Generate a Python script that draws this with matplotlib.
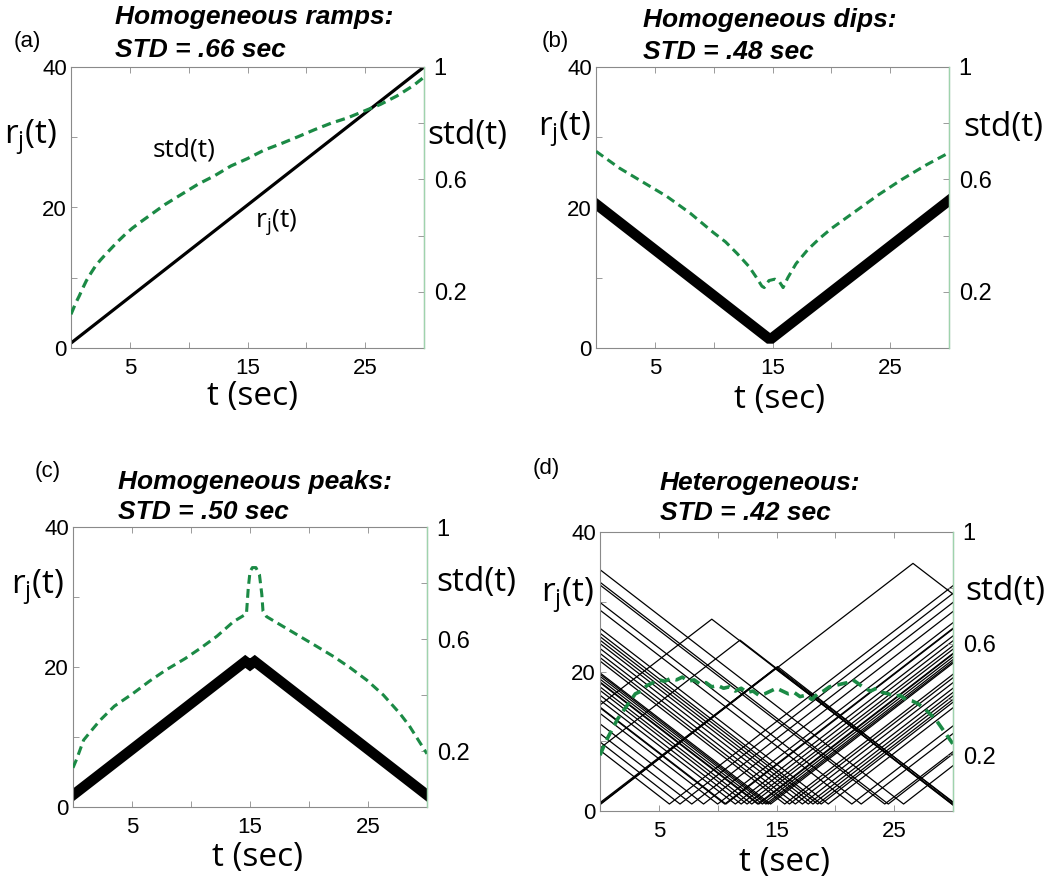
import matplotlib
matplotlib.use('Agg')
import matplotlib.pyplot as plt

plt.rcParams['font.family'] = ['Liberation Sans', 'DejaVu Sans']
plt.rcParams['mathtext.fontset'] = 'custom'
plt.rcParams['mathtext.rm'] = 'Open Sans'
plt.rcParams['mathtext.it'] = 'Open Sans:italic'

# ---------------- data ----------------
x_ticks = [0, 5, 10, 15, 20, 25, 30]
x_ticklabels = ['', '5', '', '15', '', '25', '']
left_ticks = [0, 10, 20, 30, 40]
left_ticklabels = ['0', '', '20', '', '40']
right_ticks = [0, 0.2, 0.4, 0.6, 0.8, 1.0]
right_ticklabels = ['', '0.2', '', '0.6', '', '1']

panel_letters = ['(a)', '(b)', '(c)', '(d)']
titles_line1 = ['Homogeneous ramps:', 'Homogeneous dips:', 'Homogeneous peaks:', 'Heterogeneous:']
titles_line2 = ['STD = .66 sec', 'STD = .48 sec', 'STD = .50 sec', 'STD = .42 sec']

# (a) ramps
a_rate_t = [0, 30]
a_rate_r = [0.7, 40.0]
a_std_t = [0, 0.15, 0.4, 0.7, 1.0, 1.3, 1.7, 2.1, 2.5, 3.0, 3.5, 4.1, 4.6, 5.2, 5.9, 6.6,
           7.3, 8.0, 9.4, 10.8, 12.2, 13.6, 15.0, 16.4, 17.9, 19.3, 20.7, 22.1, 23.5, 24.9,
           26.3, 27.7, 29.1, 30]
a_std_v = [0.12, 0.135, 0.16, 0.185, 0.213, 0.239, 0.267, 0.293, 0.313, 0.336, 0.358, 0.384,
           0.404, 0.426, 0.448, 0.469, 0.49, 0.511, 0.547, 0.583, 0.613, 0.648, 0.674, 0.704,
           0.728, 0.752, 0.777, 0.80, 0.819, 0.843, 0.867, 0.897, 0.934, 0.964]

# (b) dips
b_rate_t = [0, 14.8, 30]
b_rate_r = [20.5, 1.2, 21.0]
b_std_t = [0, 2, 4, 6, 8, 10, 11, 12, 13, 13.6, 14.1, 14.3, 14.7, 15.2, 15.6, 15.9, 16.3,
           17, 18, 19, 20, 22, 24, 26, 28, 30]
b_std_v = [0.70, 0.64, 0.59, 0.54, 0.48, 0.41, 0.378, 0.336, 0.29, 0.253, 0.22, 0.215, 0.24,
           0.245, 0.235, 0.215, 0.25, 0.30, 0.35, 0.39, 0.425, 0.485, 0.545, 0.60, 0.65, 0.695]

# (c) peaks
c_rate_t = [0, 14.6, 15.0, 15.4, 30]
c_rate_r = [1.7, 20.8, 20.3, 20.8, 1.7]
c_std_t = [0, 0.3, 0.9, 1.5, 2.3, 3.5, 5.1, 6.5, 7.9, 9.5, 10.8, 12.2, 13.6, 14.7, 14.85,
           15.0, 15.2, 15.5, 15.8, 16.0, 16.1, 16.4, 17.8, 19.2, 20.6, 22.1, 23.5, 24.9, 26.3,
           27.7, 28.5, 29.1, 30]
c_std_v = [0.14, 0.17, 0.239, 0.27, 0.31, 0.36, 0.406, 0.45, 0.49, 0.53, 0.567, 0.61, 0.662,
           0.69, 0.78, 0.84, 0.855, 0.855, 0.83, 0.76, 0.70, 0.68, 0.645, 0.61, 0.575, 0.537,
           0.497, 0.453, 0.40, 0.334, 0.29, 0.25, 0.19]

# (d) heterogeneous: each neuron = start value, vertex time, vertex value, end value
d_r_start = [34.6, 32.8, 32.4, 29.9, 28.8, 26.2, 25.5, 25.0, 24.5, 24.0, 23.3, 22.6, 22.0,
             21.5, 19.8, 19.6, 19.3, 18.9, 18.5, 18.4, 17.8, 17.3, 16.6, 15.9, 14.9, 14.8,
             14.0, 12.5, 11.1, 9.9, 8.7,
             1.0, 1.2, 0.9, 1.0, 15.2, 9.0]
d_t_vertex = [25.8, 24.5, 24.2, 22.2, 21.4, 19.4, 18.8, 18.5, 18.1, 17.7, 17.2, 16.6, 16.1,
              15.7, 14.5, 14.3, 14.1, 13.8, 13.5, 13.4, 12.9, 12.5, 12.0, 11.5, 10.7, 10.6,
              10.0, 8.8, 7.8, 6.8, 5.9,
              15.0, 15.1, 14.9, 26.6, 9.5, 11.9]
d_r_vertex = [1.0, 1.0, 1.0, 1.0, 1.0, 1.0, 1.0, 1.0, 1.0, 1.0, 1.0, 1.0, 1.0,
              1.0, 1.0, 1.0, 1.0, 1.0, 1.0, 1.0, 1.0, 1.0, 1.0, 1.0, 1.0, 1.0,
              1.0, 1.0, 1.0, 1.0, 1.0,
              20.6, 20.7, 20.4, 35.5, 27.5, 24.5]
d_r_end = [6.5, 8.2, 8.5, 11.1, 12.2, 14.8, 15.6, 16.0, 16.5, 17.0, 17.6, 18.4, 19.1,
           19.6, 21.2, 21.4, 21.7, 22.1, 22.5, 22.6, 23.2, 23.7, 24.4, 25.1, 26.1, 26.2,
           27.0, 28.6, 29.9, 31.2, 32.3,
           1.3, 1.2, 1.0, 31.1, 0.85, 0.9]
d_std_t = [0, 0.5, 1, 1.5, 2, 2.5, 3, 3.5, 4, 4.5, 5, 5.5, 6, 6.5, 7, 7.5, 8, 8.5, 9, 9.5, 10,
           10.5, 11, 11.5, 12, 12.5, 13, 13.5, 14, 14.5, 15, 15.5, 16, 16.5, 17, 17.5, 18, 18.5,
           19, 19.5, 20, 20.5, 21, 21.5, 22, 22.5, 23, 23.5, 24, 24.5, 25, 25.5, 26, 26.5, 27,
           27.5, 28, 28.5, 29, 29.5, 30]
d_std_v = [0.20, 0.25, 0.29, 0.33, 0.36, 0.39, 0.42, 0.43, 0.45, 0.46, 0.47, 0.465, 0.475,
           0.47, 0.48, 0.465, 0.47, 0.455, 0.46, 0.445, 0.45, 0.44, 0.445, 0.43, 0.44, 0.425,
           0.43, 0.415, 0.42, 0.43, 0.44, 0.43, 0.42, 0.425, 0.41, 0.415, 0.40, 0.42, 0.43,
           0.445, 0.45, 0.455, 0.46, 0.47, 0.455, 0.44, 0.43, 0.44, 0.425, 0.42, 0.41, 0.415,
           0.40, 0.395, 0.385, 0.37, 0.35, 0.33, 0.30, 0.27, 0.24]

# ---------------- layout / style ----------------
W, H = 1050, 883
fig = plt.figure(figsize=(W / 100, H / 100), dpi=100)

GREEN = '#1b8a45'
SPINE_GREEN = '#9fd3ad'
GRAY = '#8a8a8a'
BIG = ['Open Sans', 'DejaVu Sans']
DASH = (0, (2.9, 1.7))


def rect(l, r, t, b):
    return [l / W, 1 - b / H, (r - l) / W, (b - t) / H]


panel_rects = [rect(71, 424, 67, 348), rect(596, 949, 67, 348),
               rect(73, 427, 527, 807), rect(600, 953, 532, 811)]
rj_pos = [(-0.116, 0.75), (-0.088, 0.78), (-0.099, 0.786), (-0.093, 0.774)]
std_pos = [(1.122, 0.757), (1.153, 0.786), (1.138, 0.80), (1.147, 0.785)]
tsec_pos = [(0.515, -0.172), (0.52, -0.184), (0.52, -0.181), (0.524, -0.186)]
letter_px = [(27, 42), (555, 41), (48, 472), (546, 468)]
title_px = [(115, 17, 50), (643, 20, 52), (118, 482, 512), (660, 483, 513)]


def make_panel(i):
    ax = fig.add_axes(panel_rects[i])
    ax.set_xlim(0, 30)
    ax.set_ylim(0, 40)
    ax.set_xticks(x_ticks)
    ax.set_xticklabels(x_ticklabels)
    ax.set_yticks(left_ticks)
    ax.set_yticklabels(left_ticklabels)
    ax.tick_params(direction='in', length=4, width=0.6, color=GRAY, top=True,
                   labelsize=16, pad=3)
    ax.tick_params(axis='x', pad=7)
    for s in ax.spines.values():
        s.set_color(GRAY)
        s.set_linewidth(0.8)
    ax2 = ax.twinx()
    ax2.set_ylim(0, 1)
    ax2.set_yticks(right_ticks)
    ax2.set_yticklabels(right_ticklabels)
    ax2.tick_params(direction='in', length=4, width=0.6, color=GRAY, labelsize=17, pad=7)
    for name, s in ax2.spines.items():
        s.set_visible(name == 'right')
    ax2.spines['right'].set_color(SPINE_GREEN)
    ax2.spines['right'].set_linewidth(1.0)

    ax.text(*rj_pos[i], r'r$_\mathrm{j}$(t)', transform=ax.transAxes, fontsize=24,
            family=BIG, ha='center', va='center')
    ax.text(*std_pos[i], 'std(t)', transform=ax.transAxes, fontsize=24,
            family=BIG, ha='center', va='center')
    ax.text(*tsec_pos[i], 't (sec)', transform=ax.transAxes, fontsize=24,
            family=BIG, ha='center', va='center')
    lx, ly = letter_px[i]
    fig.text(lx / W, 1 - ly / H, panel_letters[i], fontsize=16, ha='center', va='center')
    tx, ty1, ty2 = title_px[i]
    fig.text(tx / W, 1 - ty1 / H, titles_line1[i], fontsize=19, fontweight='bold',
             style='italic', ha='left', va='center')
    fig.text(tx / W, 1 - ty2 / H, titles_line2[i], fontsize=19, fontweight='bold',
             style='italic', ha='left', va='center')
    return ax, ax2


# (a)
ax, ax2 = make_panel(0)
ax.plot(a_rate_t, a_rate_r, color='black', lw=2.3)
ax2.plot(a_std_t, a_std_v, color=GREEN, lw=2.3, linestyle=DASH)
ax.text(9.6, 28.2, 'std(t)', fontsize=19, family=BIG, ha='center', va='center')
ax.text(17.4, 17.9, r'r$_\mathrm{j}$(t)', fontsize=19, family=BIG, ha='center', va='center')

# (b)
ax, ax2 = make_panel(1)
ax.plot(b_rate_t, b_rate_r, color='black', lw=7.5, solid_joinstyle='bevel')
ax2.plot(b_std_t, b_std_v, color=GREEN, lw=2.2, linestyle=DASH)

# (c)
ax, ax2 = make_panel(2)
ax.plot(c_rate_t, c_rate_r, color='black', lw=7.5, solid_joinstyle='miter')
ax2.plot(c_std_t, c_std_v, color=GREEN, lw=2.2, linestyle=DASH)

# (d)
ax, ax2 = make_panel(3)
for r0, tv, rv, r1 in zip(d_r_start, d_t_vertex, d_r_vertex, d_r_end):
    ax.plot([0, tv, 30], [r0, rv, r1], color='black', lw=0.9)
ax2.plot(d_std_t, d_std_v, color=GREEN, lw=2.6, linestyle=DASH)

fig.savefig('out.png', dpi=100)
